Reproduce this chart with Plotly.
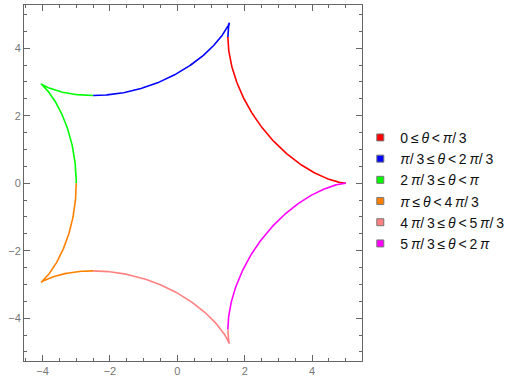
import numpy as np
import plotly.graph_objects as go

# Hypocycloid parameters (fixed circle radius R, rolling circle radius r)
R_big = 5.0
r_small = 1.0
n_points = 200

theta_bounds = [0, np.pi/3, 2*np.pi/3, np.pi, 4*np.pi/3, 5*np.pi/3, 2*np.pi]
ts = "\u2009"
LE = f"{ts}≤{ts}"
LT = f"{ts}<{ts}"
labels = [
    f"0{LE}<i>θ</i>{LT}<i>π</i>/{ts}3",
    f"<i>π</i>/{ts}3{LE}<i>θ</i>{LT}2{ts}<i>π</i>/{ts}3",
    f"2{ts}<i>π</i>/{ts}3{LE}<i>θ</i>{LT}<i>π</i>",
    f"<i>π</i>{LE}<i>θ</i>{LT}4{ts}<i>π</i>/{ts}3",
    f"4{ts}<i>π</i>/{ts}3{LE}<i>θ</i>{LT}5{ts}<i>π</i>/{ts}3",
    f"5{ts}<i>π</i>/{ts}3{LE}<i>θ</i>{LT}2{ts}<i>π</i>",
]
colors = ["#FF0000", "#0000FF", "#00FF00", "#FF8000", "#FF8080", "#FF00FF"]

x_ticks = [-4, -2, 0, 2, 4]
y_ticks = [-4, -2, 0, 2, 4]

fig = go.Figure()
for i in range(6):
    t = np.linspace(theta_bounds[i], theta_bounds[i+1], n_points)
    k = R_big - r_small
    x = k*np.cos(t) + r_small*np.cos(k/r_small*t)
    y = k*np.sin(t) - r_small*np.sin(k/r_small*t)
    fig.add_trace(go.Scatter(x=x, y=y, mode="lines",
                             line=dict(color=colors[i], width=1.6),
                             showlegend=False, hoverinfo="skip"))
for i in range(6):
    fig.add_trace(go.Scatter(x=[None], y=[None], mode="markers", name=labels[i],
                             marker=dict(symbol="square", size=7, color=colors[i],
                                         line=dict(color="#777777", width=1))))

axis_common = dict(showgrid=False, zeroline=False, showline=True, linecolor="#666666",
                   linewidth=1, mirror="ticks", ticks="inside", ticklen=6, tickwidth=1,
                   tickcolor="#666666", tickfont=dict(family="Liberation Sans", size=11, color="#777777"),
                   minor=dict(ticks="inside", ticklen=3, dtick=0.5, tickcolor="#666666", tickwidth=1))

fig.update_layout(
    width=523, height=383,
    margin=dict(l=24, r=161, t=5, b=22, autoexpand=False),
    plot_bgcolor="white", paper_bgcolor="white",
    xaxis=dict(range=[-4.55, 5.48], tickvals=x_ticks, **axis_common),
    yaxis=dict(range=[-5.27, 5.28], tickvals=y_ticks, **axis_common),
    legend=dict(x=0.995, y=0.478, xanchor="left", yanchor="middle",
                font=dict(family="Liberation Sans", size=14, color="#111111"),
                itemwidth=30, tracegroupgap=0, bgcolor="rgba(0,0,0,0)"),
)
fig.write_html("out.html")
